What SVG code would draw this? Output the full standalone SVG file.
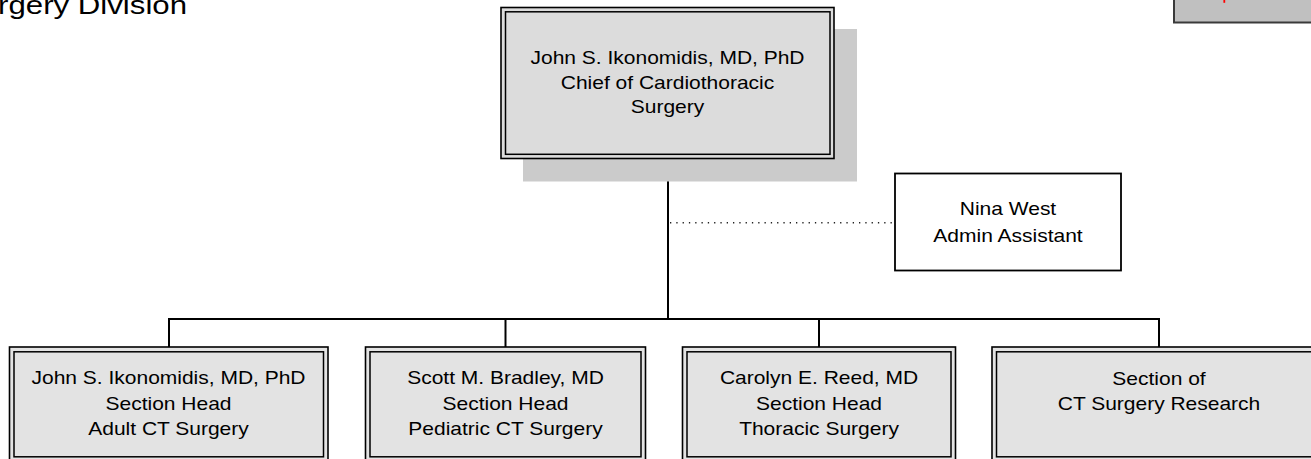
<svg xmlns="http://www.w3.org/2000/svg" width="1311" height="459" viewBox="0 0 1311 459">
<style>
.t{font-family:"Liberation Sans",Arial,sans-serif;font-size:17.5px;text-anchor:middle;fill:#000}
.title{font-family:"Liberation Sans",Arial,sans-serif;font-size:26px;text-anchor:end;fill:#000}
.outer{fill:#e3e3e3;stroke:#000;stroke-width:1.6}
.inner{fill:none;stroke:#000;stroke-width:1.5}
.top{fill:#dcdcdc}
.conn{stroke:#000;stroke-width:2;fill:none}
.dot{stroke:#222;stroke-width:1.4;stroke-dasharray:1.3 5;fill:none}
</style>
<rect width="1311" height="459" fill="#fff"/>
<text class="title" transform="matrix(1.2 0 0 1 187 14)" x="0" y="0">rgery Division</text>
<g id="corner-box">
<rect x="1174" y="-10" width="150" height="32.5" fill="#c0c0c0" stroke="#3a3a3a" stroke-width="2"/>
<rect x="1223.4" y="0" width="1.8" height="2.8" fill="#ff0000"/>
</g>
<g id="connectors">
<line class="conn" x1="668" y1="159" x2="668" y2="319"/>
<line class="conn" x1="168.5" y1="319" x2="1160" y2="319"/>
<line class="conn" x1="169" y1="318" x2="169" y2="347"/>
<line class="conn" x1="505.5" y1="318" x2="505.5" y2="347"/>
<line class="conn" x1="819" y1="318" x2="819" y2="347"/>
<line class="conn" x1="1159" y1="318" x2="1159" y2="347"/>
<line class="dot" x1="670" y1="222.7" x2="895" y2="222.7"/>
</g>
<g id="chief">
<rect x="523" y="29" width="334" height="152.5" fill="#cbcbcb"/>
<rect class="outer top" x="501" y="7.5" width="333" height="151"/>
<rect class="inner" x="505.5" y="11.8" width="324.5" height="142.5"/>
<text class="t" transform="matrix(1.2 0 0 1 667.5 0)"><tspan x="0" y="64.3">John S. Ikonomidis, MD, PhD</tspan><tspan x="0" y="89">Chief of Cardiothoracic</tspan><tspan x="0" y="113">Surgery</tspan></text>
</g>
<g id="admin">
<rect x="895" y="173.5" width="226" height="97" fill="#fff" stroke="#000" stroke-width="1.8"/>
<text class="t" transform="matrix(1.2 0 0 1 1008 0)"><tspan x="0" y="215">Nina West</tspan><tspan x="0" y="242">Admin Assistant</tspan></text>
</g>
<g id="adult">
<rect class="outer" x="9.5" y="347" width="318.5" height="116"/>
<rect class="inner" x="14" y="351.8" width="309.5" height="105"/>
<text class="t" transform="matrix(1.2 0 0 1 168.5 0)"><tspan x="0" y="384.5">John S. Ikonomidis, MD, PhD</tspan><tspan x="0" y="410">Section Head</tspan><tspan x="0" y="435">Adult CT Surgery</tspan></text>
</g>
<g id="pediatric">
<rect class="outer" x="365.5" y="347" width="280" height="116"/>
<rect class="inner" x="370" y="351.8" width="271" height="105"/>
<text class="t" transform="matrix(1.2 0 0 1 505.5 0)"><tspan x="0" y="384.5">Scott M. Bradley, MD</tspan><tspan x="0" y="410">Section Head</tspan><tspan x="0" y="435">Pediatric CT Surgery</tspan></text>
</g>
<g id="thoracic">
<rect class="outer" x="682.5" y="347" width="273" height="116"/>
<rect class="inner" x="687" y="351.8" width="264" height="105"/>
<text class="t" transform="matrix(1.2 0 0 1 819 0)"><tspan x="0" y="384.5">Carolyn E. Reed, MD</tspan><tspan x="0" y="410">Section Head</tspan><tspan x="0" y="435">Thoracic Surgery</tspan></text>
</g>
<g id="research">
<rect class="outer" x="992" y="347" width="334" height="116"/>
<rect class="inner" x="996.5" y="351.8" width="325" height="105"/>
<text class="t" transform="matrix(1.2 0 0 1 1159 0)"><tspan x="0" y="385">Section of</tspan><tspan x="0" y="410">CT Surgery Research</tspan></text>
</g>
</svg>
